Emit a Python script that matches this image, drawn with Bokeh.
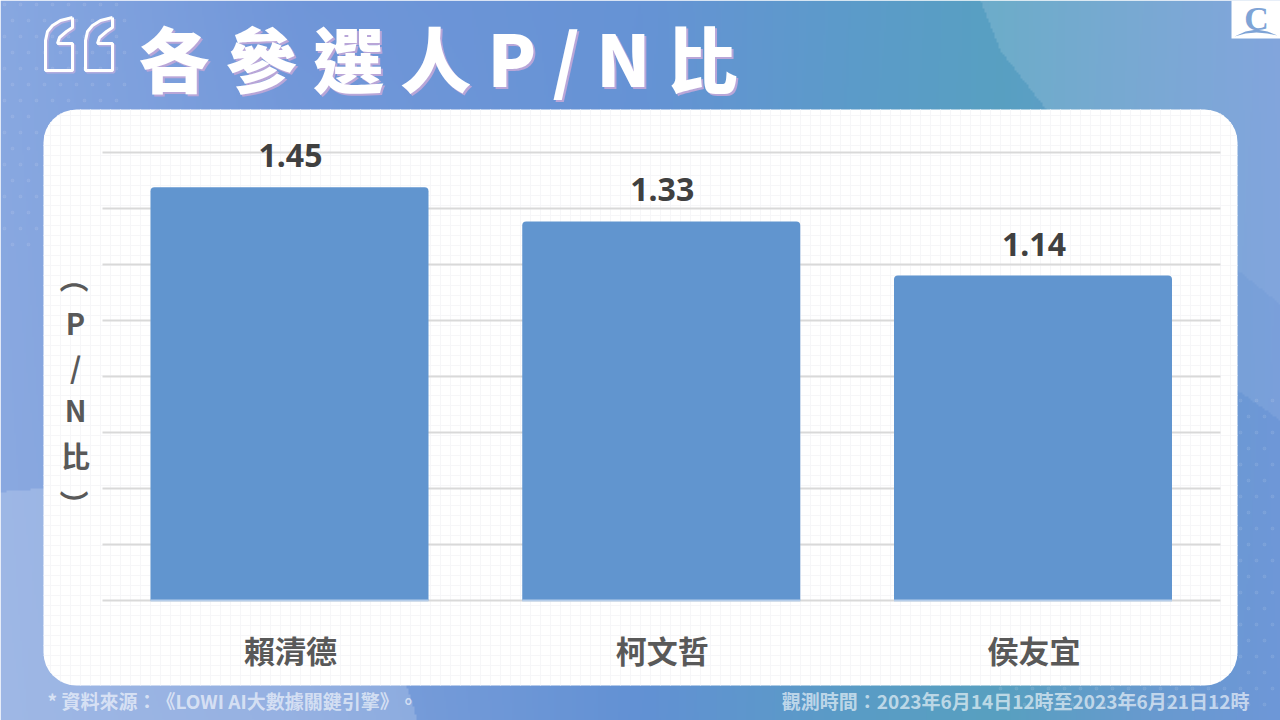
import numpy as np
from bokeh.embed import file_html
from bokeh.resources import INLINE
from bokeh.plotting import figure
from bokeh.models import Range1d
from bokeh.core.properties import value

# ---- data ----
candidates = ["賴清德", "柯文哲", "侯友宜"]
pn_ratio = [1.45, 1.33, 1.14]
value_labels = ["1.45", "1.33", "1.14"]
axis_title = ["（", "P", "/", "N", "比", "）"]
title_text = "各 參 選 人 P / N 比"
source_text = "* 資料來源：《LOWI AI大數據關鍵引擎》。"
period_text = "觀測時間：2023年6月14日12時至2023年6月21日12時"

W, H = 1280, 720
CJK = value("Noto Sans CJK TC")
TITLE_FONT = value("Noto Sans CJK TC Black")

# ---- background image ----
sx, sy = 640, 360
X, Y = np.meshgrid((np.arange(sx) + .5) * W / sx, (np.arange(sy) + .5) * H / sy)
stops_x = [0, 300, 640, 850, 1000, 1150, 1280]
top_c = np.array([[0x88,0xa8,0xe1],[0x70,0x96,0xd9],[0x66,0x93,0xd5],[0x5c,0x9b,0xca],[0x58,0xa0,0xc2],[0x66,0x9c,0xcd],[0x70,0x98,0xd8]], float)
bot_c = np.array([[0x8b,0xa9,0xe0],[0x80,0xa1,0xdc],[0x62,0x91,0xd4],[0x5a,0x9c,0xc6],[0x58,0xa0,0xc0],[0x68,0x9a,0xcf],[0x6e,0x97,0xd8]], float)
rgb = np.zeros((sy, sx, 3))
t = (Y / H)[..., None]
for c in range(3):
    rgb[..., c] = (np.interp(X, stops_x, top_c[:, c]) * (1 - t[..., 0])
                   + np.interp(X, stops_x, bot_c[:, c]) * t[..., 0])
def blend(mask, a):
    global rgb
    m = (mask[..., None]) * a
    rgb = rgb * (1 - m) + 255 * m
edge = np.interp(Y, [0, 50, 108, 200, 400], [980, 1000, 1045, 1150, 1400])
blend((X > edge).astype(float), .13)
blend(((X > 1100) & (Y < 390 + (X - 1237) * .7) & (X <= edge)).astype(float), .08)
blend((((X - 60) / 360) ** 2 + ((Y - 760) / 272) ** 2 < 1).astype(float), .17)
rgba = np.zeros((sy, sx), dtype=np.uint32)
view = rgba.view(np.uint8).reshape((sy, sx, 4))
view[..., :3] = np.clip(rgb, 0, 255).astype(np.uint8)
view[..., 3] = 255

p = figure(width=W, height=H, x_range=Range1d(0, W), y_range=Range1d(H, 0),
           x_axis_location=None, y_axis_location=None, toolbar_location=None,
           output_backend="svg", min_border=0, outline_line_color=None,
           background_fill_color=None, border_fill_color=None)
p.grid.visible = False
p.styles = {"position": "absolute", "left": "0px", "top": "0px", "text-spacing-trim": "space-all"}

p.extra_y_ranges = {"val": Range1d(start=(600 - H) / 285, end=600 / 285),
                    "bg": Range1d(start=0, end=H)}
p.extra_x_ranges = {"cat": Range1d(start=-289 / 371.75, end=(W - 289) / 371.75)}

p.image_rgba(image=[rgba[::-1].copy()], x=0, y=0, dw=W, dh=H, y_range_name="bg")

# dot texture
dx, dy = [], []
for j, yy in enumerate(range(4, 260, 16)):
    for xx in range(4 + (j % 2) * 8, 130, 16):
        if yy < 110 or xx < 43:
            dx.append(xx); dy.append(yy)
for j, yy in enumerate(range(400, 720, 16)):
    for xx in range(1000 + (j % 2) * 8, 1280, 16):
        if xx > 1237 or yy > 685:
            dx.append(xx); dy.append(yy)
p.scatter(dx, dy, size=3, color="white", alpha=.08)

# card
p.quad(left=[43], right=[1237], top=[109], bottom=[685], fill_color="white", line_color=None, border_radius=33)

# graph-paper lines in the card
L, R, T, B, r = 43, 1237, 109, 685, 33
xs0, xs1, ys0, ys1 = [], [], [], []
for yy in range(T + 6, B, 10):
    d = max(T + r - yy, yy - (B - r), 0)
    ins = r - np.sqrt(max(r * r - d * d, 0))
    xs0.append(L + ins); xs1.append(R - ins); ys0.append(yy); ys1.append(yy)
for xx in range(L + 7, R, 10):
    d = max(L + r - xx, xx - (R - r), 0)
    ins = r - np.sqrt(max(r * r - d * d, 0))
    xs0.append(xx); xs1.append(xx); ys0.append(T + ins); ys1.append(B - ins)
p.segment(xs0, ys0, xs1, ys1, line_color="#f6f6f8", line_width=1)

# horizontal rules
rule_y = list(range(152, 601, 56))
p.segment([102] * len(rule_y), rule_y, [1220] * len(rule_y), rule_y, line_color="#d9d9d9", line_width=2)

# bars
idx = list(range(len(candidates)))
hw = 139 / 371.75
p.vbar(x=idx, top=pn_ratio, bottom=0, width=2 * hw, fill_color="#6195cf", line_color=None,
       border_radius=(4, 4, 0, 0), x_range_name="cat", y_range_name="val")
p.segment([i - hw for i in idx], [0] * 3, [i + hw for i in idx], [0] * 3,
          line_color="#b5cdea", line_width=2, x_range_name="cat", y_range_name="val")
p.text(x=idx, y=pn_ratio, text=value_labels, x_offset=1, y_offset=-31.5, text_align="center", text_baseline="middle",
       text_font=value("Noto Sans"), text_font_style="bold", text_font_size="32px", text_color="#404040",
       x_range_name="cat", y_range_name="val")
p.text(x=idx, y=[649] * 3, text=candidates, x_offset=1, text_align="center", text_baseline="middle",
       text_font=CJK, text_font_style="bold", text_font_size="31px", text_color="#595959",
       x_range_name="cat")

# vertical axis title
t_y = [278, 321, 365, 408, 454, 504]
t_a = [-np.pi / 2, 0, 0, 0, 0, -np.pi / 2]
p.text(x=[75] * 6, y=t_y, text=axis_title, angle=t_a, text_align="center", text_baseline="middle",
       text_font=CJK, text_font_style="bold", text_font_size="29px", text_color="#595959")

# quote marks
qx = np.array([72, 72, 66, 59, 57, 72, 72, 45, 45, 47, 52, 60, 72], float)
qy = np.array([17, 27, 31, 37, 43, 43, 70, 70, 40, 31, 25, 20, 17], float)
p.multi_line([list(qx + 1.5), list(qx + 41.5)], [list(qy + 1.5), list(qy + 1.5)],
             line_color="#bfaedd", line_width=3, line_alpha=.8)
p.multi_line([list(qx), list(qx + 40)], [list(qy), list(qy)], line_color="white", line_width=3)

# title
p.text(x=[138], y=[55], text=[title_text], x_offset=2, y_offset=2, text_align="left", text_baseline="middle",
       text_font=TITLE_FONT, text_font_style="bold", text_font_size="71px", text_color="#b9a6d8")
p.text(x=[138], y=[55], text=[title_text], text_align="left", text_baseline="middle",
       text_font=TITLE_FONT, text_font_style="bold", text_font_size="71px", text_color="#ffffff")

# footer
p.text(x=[47], y=[700], text=[source_text], text_align="left", text_baseline="middle",
       text_font=CJK, text_font_style="bold", text_font_size="19px", text_color="#ffffff", text_alpha=.62)
p.text(x=[1249], y=[700], text=[period_text], text_align="right", text_baseline="middle",
       text_font=CJK, text_font_style="bold", text_font_size="19px", text_color="#ffffff", text_alpha=.62)

# logo
p.quad(left=[1231], right=[1280], top=[0], bottom=[38], fill_color="white", line_color=None)
p.text(x=[1256], y=[18], text=["C"], text_align="center", text_baseline="middle",
       text_font=value("Liberation Serif"), text_font_style="bold", text_font_size="34px", text_color="#7fa4d6")
p.patch([1234, 1245, 1256, 1267, 1277, 1267, 1256, 1245], [36, 31, 29, 31, 35, 33, 32, 33],
        fill_color="#7fa4d6", line_color=None)

open("out.html", "w").write(file_html(p, INLINE))
